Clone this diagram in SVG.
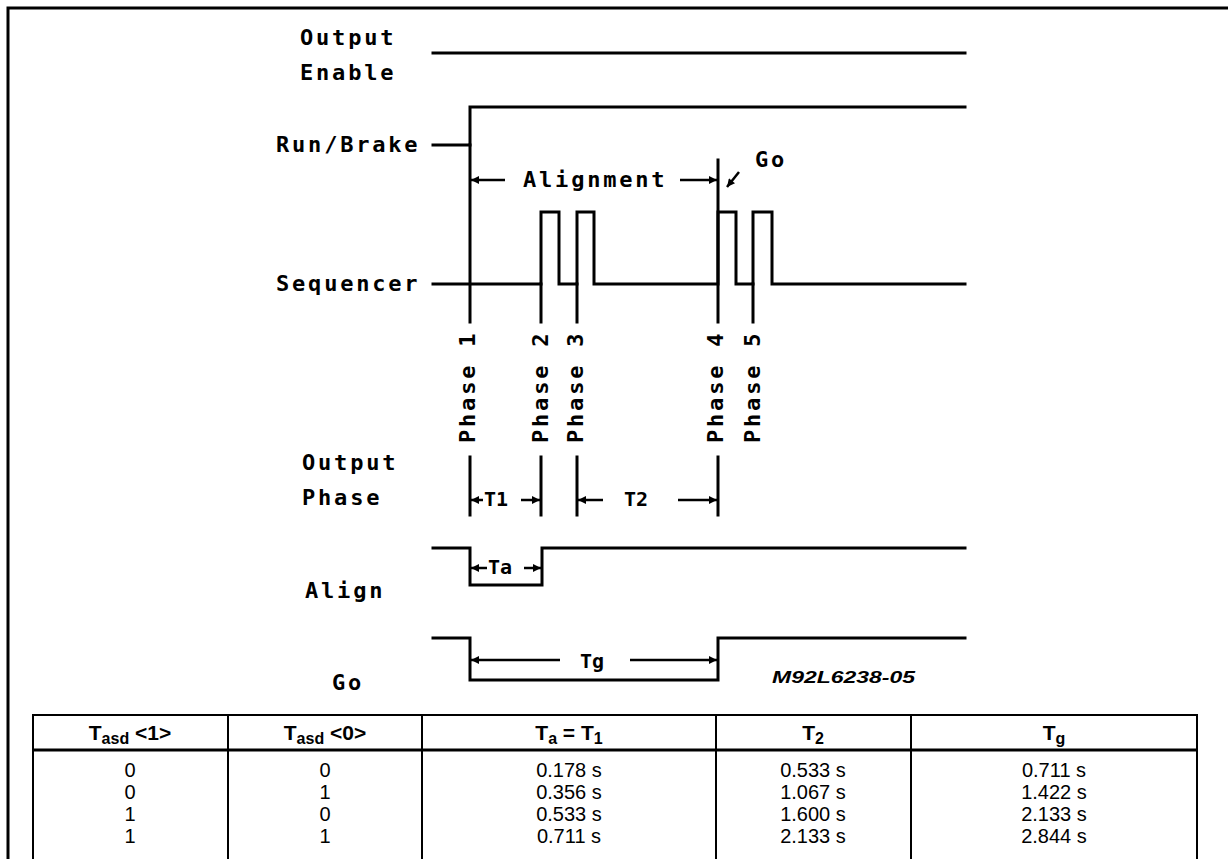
<svg xmlns="http://www.w3.org/2000/svg" width="1228" height="859" viewBox="0 0 1228 859">
<defs>
<style>
.w{fill:none;stroke:#000;stroke-width:3;stroke-linejoin:miter;stroke-linecap:square}
.a{fill:none;stroke:#000;stroke-width:2.5}
.p{font-family:"DejaVu Sans Mono",monospace;font-weight:bold;font-size:22px;letter-spacing:2.8px;fill:#000}
.s{font-family:"DejaVu Sans Mono",monospace;font-weight:bold;font-size:20px;fill:#000}
.wm{font-family:"Liberation Sans",sans-serif;font-weight:bold;font-style:italic;font-size:16px;fill:#000}
.th{font-family:"Liberation Sans",Arial,sans-serif;font-weight:bold;font-size:21px;fill:#000;text-anchor:middle}
.sub{font-size:16px}
.td{font-family:"Liberation Sans",Arial,sans-serif;font-size:20px;fill:#000;text-anchor:middle}
.tl{fill:none;stroke:#000;stroke-width:2}
</style>
<marker id="ah" viewBox="0 0 10 10" refX="10" refY="5" markerWidth="9" markerHeight="8" markerUnits="userSpaceOnUse" orient="auto">
<path d="M0,0 L10,5 L0,10 z" fill="#000"/>
</marker>
</defs>
<rect width="1228" height="859" fill="#fff"/>
<path d="M8,859 V8 H1228" fill="none" stroke="#000" stroke-width="3"/>

<g id="labels">
<text class="p" x="300" y="45">Output</text>
<text class="p" x="300" y="80">Enable</text>
<text class="p" x="276" y="152">Run/Brake</text>
<text class="p" x="523" y="187">Alignment</text>
<text class="p" x="755" y="167">Go</text>
<text class="p" x="276" y="291">Sequencer</text>
<text class="p" transform="translate(475,443) rotate(-90)">Phase 1</text>
<text class="p" transform="translate(548,443) rotate(-90)">Phase 2</text>
<text class="p" transform="translate(583,443) rotate(-90)">Phase 3</text>
<text class="p" transform="translate(723,443) rotate(-90)">Phase 4</text>
<text class="p" transform="translate(760,443) rotate(-90)">Phase 5</text>
<text class="p" x="302" y="470">Output</text>
<text class="p" x="302" y="505">Phase</text>
<text class="s" x="484" y="506">T1</text>
<text class="s" x="624" y="506">T2</text>
<text class="s" x="488" y="574">Ta</text>
<text class="p" x="305" y="598">Align</text>
<text class="s" x="580" y="668">Tg</text>
<text class="p" x="332" y="690">Go</text>
<text class="wm" x="772" y="683" textLength="143" lengthAdjust="spacingAndGlyphs">M92L6238-05</text>
</g>

<g id="waveforms">
<path class="w" d="M433,53 H965"/>
<path class="w" d="M433,145 H470 V107 H965"/>
<path class="w" d="M433,284 H541 V212 H559 V284 H577 V212 H594 V284 H718 V212 H736 V284 H753 V212 H772 V284 H965"/>
<path class="w" d="M433,548 H470 V585 H542 V548 H965"/>
<path class="w" d="M433,638 H470 V680 H718 V638 H965"/>
</g>

<g id="connectors">
<path class="w" d="M470,145 V322 M541,284 V322 M577,284 V322 M718,160 V322 M753,284 V322"/>
<path class="w" d="M470,457 V515 M541,457 V515 M577,457 V515 M718,457 V515"/>
<line class="a" x1="505" y1="180" x2="471" y2="180" marker-end="url(#ah)"/>
<line class="a" x1="680" y1="180" x2="717" y2="180" marker-end="url(#ah)"/>
<line class="a" x1="739" y1="172" x2="727" y2="187" marker-end="url(#ah)"/>
<line class="a" x1="483" y1="500" x2="471" y2="500" marker-end="url(#ah)"/>
<line class="a" x1="521" y1="500" x2="540" y2="500" marker-end="url(#ah)"/>
<line class="a" x1="603" y1="500" x2="578" y2="500" marker-end="url(#ah)"/>
<line class="a" x1="678" y1="500" x2="717" y2="500" marker-end="url(#ah)"/>
<line class="a" x1="487" y1="568" x2="471" y2="568" marker-end="url(#ah)"/>
<line class="a" x1="524" y1="568" x2="541" y2="568" marker-end="url(#ah)"/>
<line class="a" x1="560" y1="660" x2="471" y2="660" marker-end="url(#ah)"/>
<line class="a" x1="630" y1="660" x2="717" y2="660" marker-end="url(#ah)"/>
</g>

<g id="table">
<rect class="tl" x="33" y="715" width="1164" height="160"/>
<line x1="33" y1="750" x2="1197" y2="750" stroke="#000" stroke-width="3"/>
<path class="tl" d="M228,715 V859 M422,715 V859 M716,715 V859 M911,715 V859"/>
<text class="th" x="130" y="740">T<tspan class="sub" dy="4">asd</tspan><tspan dy="-4"> &lt;1&gt;</tspan></text>
<text class="th" x="325" y="740">T<tspan class="sub" dy="4">asd</tspan><tspan dy="-4"> &lt;0&gt;</tspan></text>
<text class="th" x="569" y="740">T<tspan class="sub" dy="4">a</tspan><tspan dy="-4"> = T</tspan><tspan class="sub" dy="4">1</tspan></text>
<text class="th" x="813" y="740">T<tspan class="sub" dy="4">2</tspan></text>
<text class="th" x="1054" y="740">T<tspan class="sub" dy="4">g</tspan></text>
<g class="td">
<text x="130" y="777">0</text><text x="325" y="777">0</text><text x="569" y="777">0.178 s</text><text x="813" y="777">0.533 s</text><text x="1054" y="777">0.711 s</text>
<text x="130" y="799">0</text><text x="325" y="799">1</text><text x="569" y="799">0.356 s</text><text x="813" y="799">1.067 s</text><text x="1054" y="799">1.422 s</text>
<text x="130" y="821">1</text><text x="325" y="821">0</text><text x="569" y="821">0.533 s</text><text x="813" y="821">1.600 s</text><text x="1054" y="821">2.133 s</text>
<text x="130" y="843">1</text><text x="325" y="843">1</text><text x="569" y="843">0.711 s</text><text x="813" y="843">2.133 s</text><text x="1054" y="843">2.844 s</text>
</g>
</g>
</svg>
